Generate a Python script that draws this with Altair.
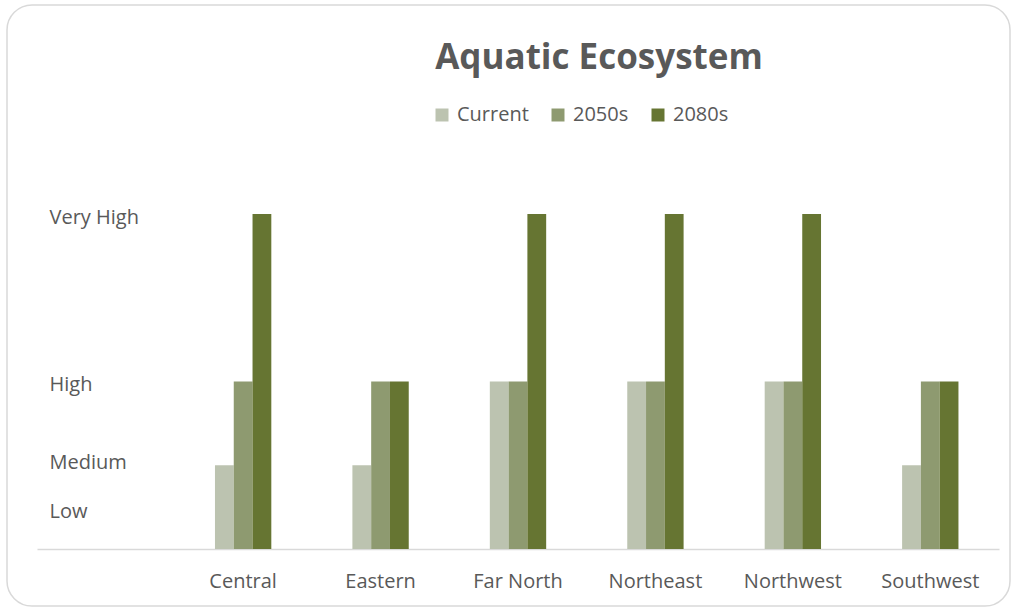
import altair as alt
import pandas as pd

# ---- data ----
regions = ["Central", "Eastern", "Far North", "Northeast", "Northwest", "Southwest"]
periods = ["Current", "2050s", "2080s"]
current = [1, 1, 2, 2, 2, 1]
y2050s = [2, 2, 2, 2, 2, 2]
y2080s = [4, 2, 4, 4, 4, 2]
level_names = ["Low", "Medium", "High", "Very High"]
level_ticks = [0.45, 1.03, 1.97, 3.96]
colors = ["#BCC3B0", "#8E9A70", "#667532"]

rows = []
for i, r in enumerate(regions):
    for p, vals in zip(periods, [current, y2050s, y2080s]):
        rows.append({"region": r, "period": p, "score": vals[i]})
df = pd.DataFrame(rows)

x_domain = [""] + regions  # empty leading slot, as in the original plot area

label_expr = " : ".join(
    f"abs(datum.value - {v}) < 0.01 ? '{n}'" for v, n in zip(level_ticks, level_names)
) + " : ''"

FONT = "Open Sans"
GREY = "#595959"

bars = alt.Chart(df).mark_bar().encode(
    x=alt.X(
        "region:N",
        scale=alt.Scale(domain=x_domain, paddingInner=0.59, paddingOuter=0.295),
        axis=alt.Axis(
            title=None, ticks=False, domain=True, domainColor="#D9D9D9",
            domainWidth=1.5, labelAngle=0, labelFontSize=20, labelFont=FONT,
            labelColor=GREY, labelPadding=22, grid=False,
        ),
    ),
    xOffset=alt.XOffset("period:N", sort=periods),
    y=alt.Y(
        "score:Q",
        scale=alt.Scale(domain=[0, 4], nice=False, zero=True),
        axis=alt.Axis(
            title=None, values=level_ticks, labelExpr=label_expr, ticks=False,
            tickSize=0, domain=False, grid=False, labelAlign="left",
            labelBaseline="middle", labelPadding=-12, labelFontSize=20,
            labelFont=FONT, labelColor=GREY,
        ),
    ),
    color=alt.Color(
        "period:N",
        scale=alt.Scale(domain=periods, range=colors),
        legend=alt.Legend(
            title=None, orient="none", direction="horizontal",
            legendX=395, legendY=-109, symbolType="square", symbolSize=169,
            symbolStrokeWidth=0, labelFontSize=20, labelFont=FONT,
            labelColor=GREY, columnPadding=19, labelOffset=5, padding=0,
        ),
    ),
)

frame = alt.Chart(pd.DataFrame({"f": [0]})).mark_rect(
    fill="transparent", stroke="#D9D9D9", strokeWidth=1.5, cornerRadius=25
).encode(
    x=alt.value(-30), x2=alt.value(973), y=alt.value(-209), y2=alt.value(392)
)

chart = alt.layer(frame, bars).properties(
    width=962,
    height=335,
    title=alt.Title(
        "Aquatic Ecosystem", fontSize=35, font=FONT, fontWeight="bold",
        color=GREY, anchor="middle", dx=81, offset=-72,
    ),
    autosize=alt.AutoSizeParams(type="none"),
    padding={"left": 37, "top": 214, "right": 15, "bottom": 61},
    background="white",
).configure_view(strokeWidth=0)

chart.save("out.html", embed_options={"renderer": "svg", "actions": False})
